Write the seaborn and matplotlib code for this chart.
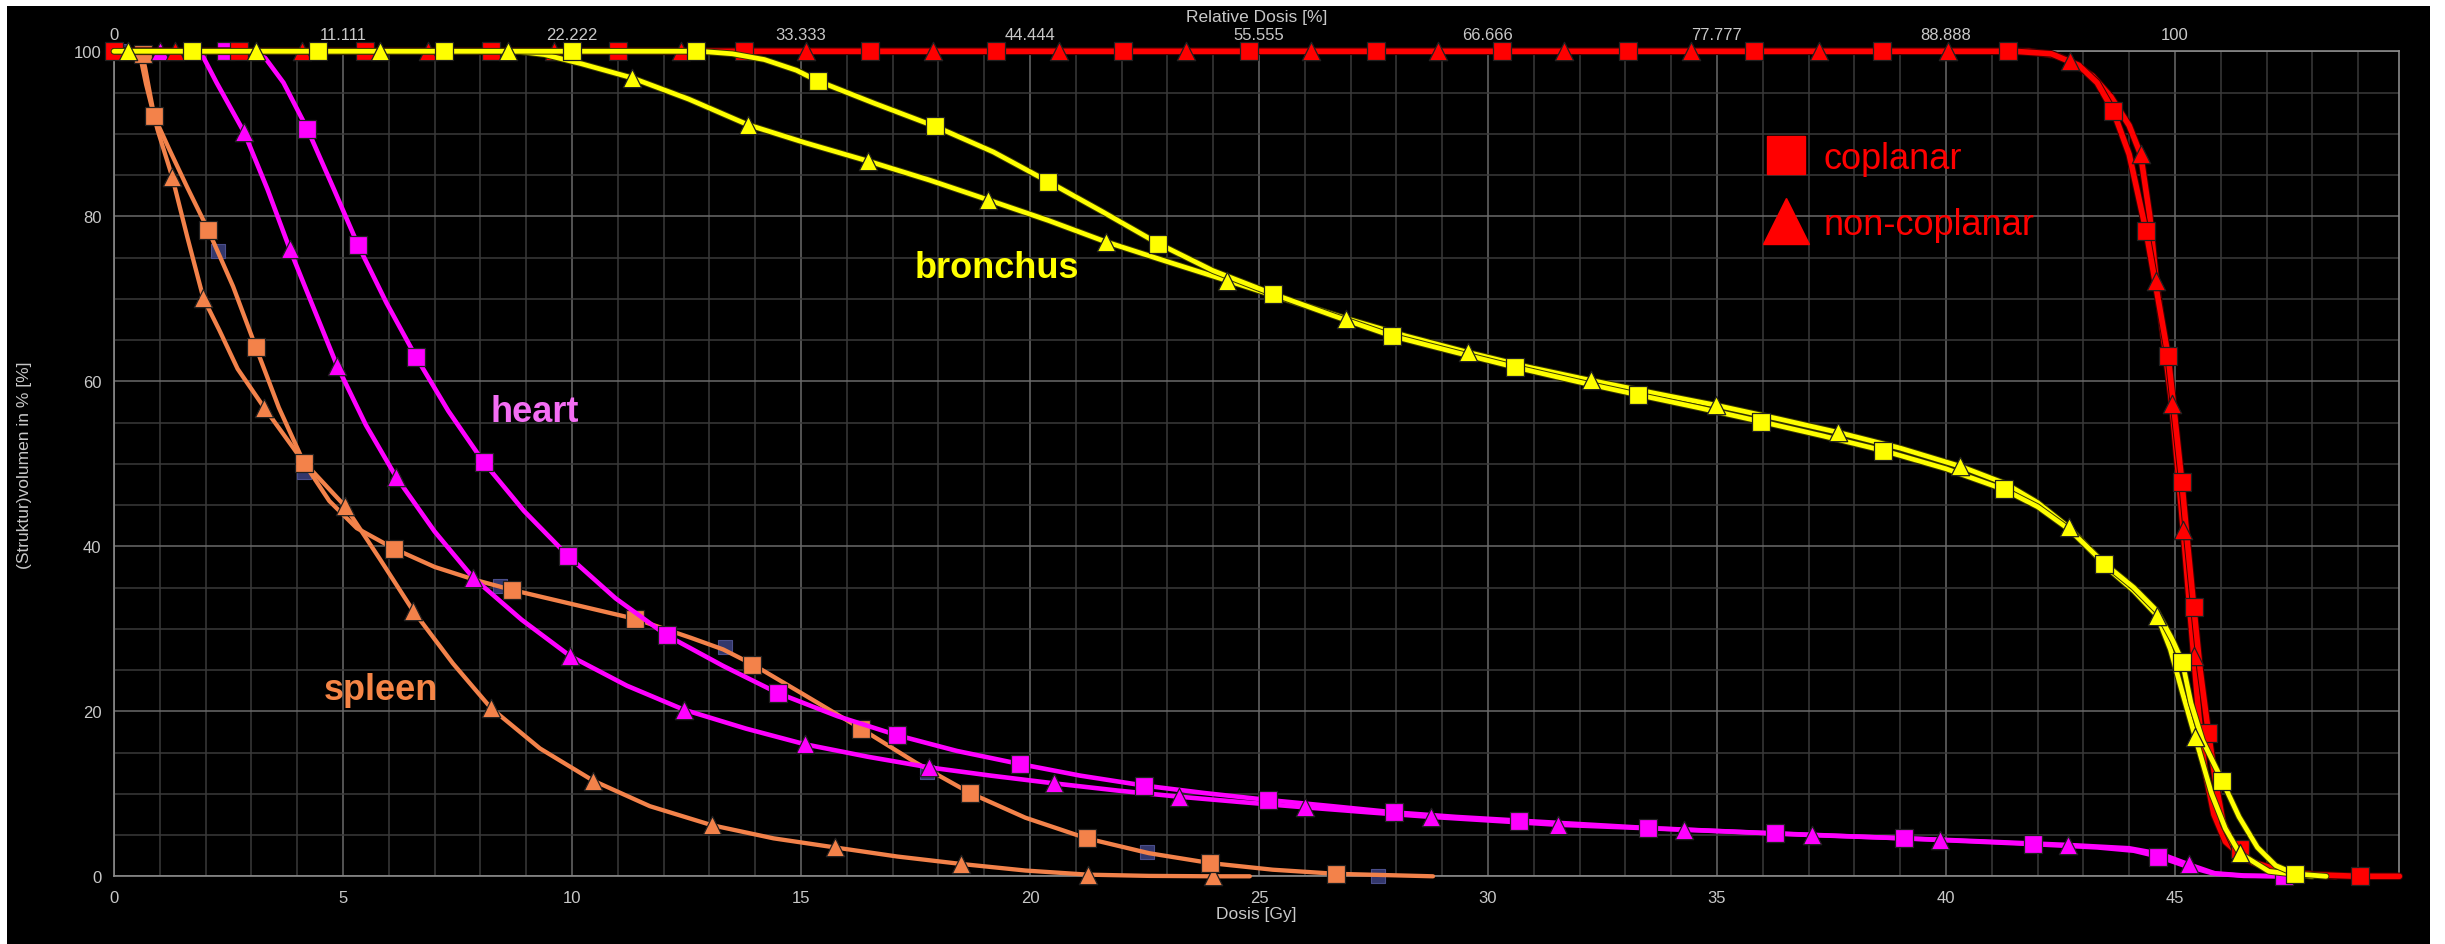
import matplotlib
matplotlib.use("Agg")
import matplotlib.pyplot as plt
import matplotlib.patheffects as pe
from matplotlib.lines import Line2D
from matplotlib.patches import Rectangle
import seaborn as sns

# ---------------- data (dose [Gy], volume [%]) ----------------
spleen_cop_curve = [(0, 100), (0.6, 100), (0.68, 98), (0.78, 95), (0.88, 92.1), (1.2, 88.2), (1.6, 83.5),
                    (2.06, 78.3), (2.6, 71.5), (3.1, 64.1), (3.6, 56.8), (4.15, 50.1), (4.7, 45.5), (5.3, 42.2),
                    (6.12, 39.7), (7.0, 37.5), (7.9, 35.9), (8.7, 34.7), (10.0, 33.0), (11.38, 31.2), (12.6, 28.9),
                    (13.3, 27.5), (13.94, 25.7), (15.1, 21.9), (16.31, 17.9), (17.5, 13.8), (18.69, 10.1),
                    (19.9, 7.1), (21.24, 4.6), (22.6, 2.8), (23.94, 1.6), (25.3, 0.8), (26.69, 0.3), (28.8, 0)]
spleen_cop_marks = [(0.64, 99.7), (0.88, 92.1), (2.06, 78.3), (3.1, 64.1), (4.15, 50.1), (6.12, 39.7),
                    (8.7, 34.7), (11.38, 31.2), (13.94, 25.65), (16.31, 17.85), (18.69, 10.1), (21.24, 4.64),
                    (23.94, 1.6), (26.69, 0.3)]

spleen_non_curve = [(0, 100), (0.55, 100), (0.7, 96), (0.95, 90.5), (1.27, 84.8), (1.6, 77.5), (1.95, 70.1),
                    (2.3, 66.2), (2.7, 61.5), (3.28, 56.8), (4.1, 50.5), (5.04, 44.9), (5.8, 38.5), (6.53, 32.2),
                    (7.4, 25.8), (8.23, 20.4), (9.3, 15.5), (10.46, 11.6), (11.7, 8.5), (13.05, 6.2),
                    (14.4, 4.6), (15.74, 3.5), (17.1, 2.4), (18.49, 1.5), (19.9, 0.7), (21.26, 0.2),
                    (22.6, 0.05), (24.0, 0), (24.8, 0)]
spleen_non_marks = [(1.27, 84.8), (1.95, 70.1), (3.28, 56.8), (5.04, 44.9), (6.53, 32.2), (8.23, 20.4),
                    (10.46, 11.6), (13.05, 6.2), (15.74, 3.5), (18.49, 1.5), (21.26, 0.2), (24.0, 0)]

hidden_marks = [(0.1, 100), (2.28, 75.8), (4.15, 49.0), (8.42, 35.2), (13.35, 27.8), (17.76, 12.6),
                (22.56, 2.95), (27.6, 0)]

heart_cop_curve = [(0, 100), (3.0, 100), (3.3, 99.2), (3.7, 96.2), (4.22, 90.6), (4.8, 83.3), (5.33, 76.5),
                   (5.95, 69.5), (6.6, 62.9), (7.3, 56.4), (8.07, 50.2), (8.95, 44.3), (9.92, 38.8),
                   (10.95, 33.7), (12.07, 29.2), (13.3, 25.5), (14.5, 22.2), (15.8, 19.4), (17.1, 17.1),
                   (18.4, 15.2), (19.79, 13.6), (21.1, 12.2), (22.49, 11.0), (23.8, 10.1), (25.2, 9.25),
                   (26.6, 8.5), (27.95, 7.75), (29.3, 7.2), (30.68, 6.75), (32.1, 6.3), (33.5, 5.85),
                   (36.27, 5.2), (39.08, 4.6), (41.9, 3.9), (43.3, 3.5), (44.1, 3.1), (44.63, 2.4),
                   (45.2, 1.3), (45.8, 0.4), (46.5, 0.1), (47.38, 0)]
heart_cop_marks = [(2.44, 100), (4.22, 90.6), (5.33, 76.5), (6.6, 62.9), (8.07, 50.2), (9.92, 38.8),
                   (12.07, 29.2), (14.5, 22.2), (17.1, 17.1), (19.79, 13.6), (22.49, 11.0), (25.2, 9.25),
                   (27.95, 7.75), (30.68, 6.75), (33.5, 5.85), (36.27, 5.2), (39.08, 4.6), (41.9, 3.9),
                   (44.63, 2.4), (47.38, 0)]

heart_non_curve = [(0, 100), (1.7, 100), (1.95, 99.3), (2.24, 96.2), (2.84, 90.2), (3.35, 83.3), (3.84, 76.0),
                   (4.35, 69.0), (4.87, 61.9), (5.5, 54.7), (6.16, 48.4), (7.0, 41.8), (7.84, 36.2),
                   (8.9, 31.1), (9.96, 26.7), (11.2, 23.1), (12.44, 20.2), (13.8, 17.9), (15.09, 16.0),
                   (16.45, 14.5), (17.8, 13.2), (19.15, 12.2), (20.52, 11.27), (21.9, 10.4), (23.25, 9.65),
                   (24.6, 9.0), (26.0, 8.36), (27.4, 7.75), (28.76, 7.2), (31.52, 6.25), (34.27, 5.65),
                   (37.07, 5.0), (39.88, 4.44), (42.67, 3.8), (44.0, 3.4), (44.7, 2.7), (45.3, 1.45),
                   (45.9, 0.3), (46.5, 0.05), (47.3, 0)]
heart_non_marks = [(1.0, 100), (2.84, 90.2), (3.84, 76.0), (4.87, 61.9), (6.16, 48.4), (7.84, 36.2),
                   (9.96, 26.7), (12.44, 20.2), (15.09, 16.0), (17.8, 13.2), (20.52, 11.27), (23.25, 9.65),
                   (26.0, 8.36), (28.76, 7.2), (31.52, 6.25), (34.27, 5.65), (37.07, 5.0), (39.88, 4.44),
                   (42.67, 3.8), (45.3, 1.45)]

bronch_cop_curve = [(0, 100), (12.8, 100), (13.5, 99.7), (14.2, 99.0), (14.9, 97.7), (15.37, 96.4),
                    (16.6, 93.7), (17.93, 90.9), (19.2, 87.8), (20.4, 84.2), (21.6, 80.5), (22.8, 76.7),
                    (24.0, 73.4), (25.3, 70.6), (26.6, 68.0), (27.9, 65.5), (29.3, 63.5), (30.6, 61.7),
                    (32.0, 59.9), (33.28, 58.35), (34.6, 56.8), (35.97, 55.1), (37.3, 53.4), (38.63, 51.6),
                    (40.0, 49.4), (41.26, 46.9), (42.0, 44.8), (42.7, 42.0), (43.46, 37.9), (44.1, 35.0),
                    (44.6, 32.2), (44.95, 28.6), (45.16, 26.0), (45.35, 21.0), (45.6, 16.5), (46.03, 11.6),
                    (46.4, 7.2), (46.8, 3.5), (47.2, 1.3), (47.62, 0.3), (48.3, 0)]
bronch_cop_marks = [(1.7, 100), (4.45, 100), (7.2, 100), (10.0, 100), (12.7, 100), (15.37, 96.4),
                    (17.93, 90.9), (20.4, 84.2), (22.8, 76.7), (25.3, 70.6), (27.9, 65.5), (30.6, 61.7),
                    (33.28, 58.35), (35.97, 55.1), (38.63, 51.6), (41.26, 46.9), (43.46, 37.9),
                    (45.16, 26.0), (46.03, 11.6), (47.62, 0.3)]

bronch_non_curve = [(0, 100), (8.8, 100), (9.4, 99.6), (10.2, 98.5), (11.3, 96.8), (12.55, 94.2),
                    (13.84, 91.1), (15.1, 88.9), (16.46, 86.7), (17.8, 84.4), (19.08, 82.0), (20.4, 79.5),
                    (21.66, 76.9), (23.0, 74.5), (24.31, 72.2), (25.6, 69.9), (26.91, 67.6), (28.2, 65.5),
                    (29.57, 63.5), (30.9, 61.7), (32.26, 60.1), (33.6, 58.6), (34.98, 57.1), (36.3, 55.5),
                    (37.65, 53.8), (39.0, 51.9), (40.31, 49.7), (41.3, 47.6), (42.0, 45.3), (42.68, 42.3),
                    (43.6, 37.0), (44.1, 34.6), (44.61, 31.6), (44.9, 27.5), (45.15, 22.5), (45.44, 16.9),
                    (45.8, 10.0), (46.1, 5.8), (46.41, 2.8), (47.05, 0.6), (48.0, 0)]
bronch_non_marks = [(0.3, 100), (3.1, 100), (5.8, 100), (8.6, 100), (11.3, 96.8), (13.84, 91.1),
                    (16.46, 86.7), (19.08, 82.0), (21.66, 76.9), (24.31, 72.2), (26.91, 67.6), (29.57, 63.5),
                    (32.26, 60.1), (34.98, 57.1), (37.65, 53.8), (40.31, 49.7), (42.68, 42.3), (44.61, 31.6),
                    (45.44, 16.9), (46.41, 2.8)]

ptv_cop_curve = [(0, 100), (41.5, 100), (42.3, 99.7), (42.9, 98.3), (43.3, 96.2), (43.65, 92.8), (44.0, 87.5),
                 (44.37, 78.2), (44.6, 71.0), (44.85, 63.1), (45.0, 55.5), (45.15, 47.8), (45.28, 40.0),
                 (45.41, 32.7), (45.55, 25.0), (45.73, 17.4), (45.9, 11.0), (46.05, 6.5), (46.3, 3.5),
                 (46.7, 1.7), (47.3, 0.7), (48.0, 0.2), (49.0, 0), (49.9, 0)]
ptv_cop_marks = [(0, 100), (2.72, 100), (5.47, 100), (8.23, 100), (11.0, 100), (13.75, 100), (16.5, 100),
                 (19.26, 100), (22.02, 100), (24.78, 100), (27.55, 100), (30.3, 100), (33.06, 100),
                 (35.8, 100), (38.6, 100), (41.36, 100), (43.65, 92.8), (44.37, 78.2), (44.85, 63.1),
                 (45.15, 47.8), (45.41, 32.7), (45.73, 17.4), (46.43, 3.3), (49.05, 0)]

ptv_non_curve = [(0, 100), (41.8, 100), (42.4, 99.5), (42.71, 98.8), (43.2, 97.0), (43.6, 94.5), (44.0, 91.0),
                 (44.25, 87.5), (44.45, 80.0), (44.59, 72.2), (44.78, 64.0), (44.93, 57.3), (45.06, 49.5),
                 (45.18, 42.0), (45.3, 34.0), (45.41, 26.7), (45.52, 19.5), (45.65, 13.0), (45.85, 7.5),
                 (46.1, 4.2), (46.5, 2.2), (47.0, 1.0), (47.8, 0.3), (48.5, 0)]
ptv_non_marks = [(1.34, 100), (4.1, 100), (6.85, 100), (9.61, 100), (12.37, 100), (15.12, 100), (17.88, 100),
                 (20.64, 100), (23.4, 100), (26.14, 100), (28.9, 100), (31.67, 100), (34.44, 100),
                 (37.23, 100), (40.04, 100), (42.71, 98.8), (44.25, 87.5), (44.59, 72.2), (44.93, 57.3),
                 (45.18, 42.0), (45.41, 26.7)]

gy_ticks = [0, 5, 10, 15, 20, 25, 30, 35, 40, 45]
rel_labels = ["0", "11.111", "22.222", "33.333", "44.444", "55.555", "66.666", "77.777", "88.888", "100"]
vol_ticks = [0, 20, 40, 60, 80, 100]

# ---------------- style ----------------
sns.set_style("dark")
plt.rcParams['font.family'] = ['Liberation Sans', 'DejaVu Sans']
TICKC = '#c8c8c8'

fig = plt.figure(figsize=(24.45, 9.45), dpi=100, facecolor='white')
fig.patches.append(Rectangle((7 / 2445, 0), (2430 - 7) / 2445, 1 - 7 / 945, transform=fig.transFigure,
                             facecolor='black', edgecolor='none', zorder=-10))
ax = fig.add_axes([114 / 2445, 1 - 877.3 / 945, (2399.4 - 114) / 2445, 825 / 945])
ax.set_facecolor('black')


def unz(pts):
    return [p[0] for p in pts], [p[1] for p in pts]


SQ = 150
TR = 175


def draw(curve, marks, color, marker, msize, lw, z, outline=None):
    cx, cy = unz(curve)
    kw = {}
    if outline:
        kw['path_effects'] = [pe.Stroke(linewidth=lw + 1.4, foreground=outline), pe.Normal()]
    sns.lineplot(x=cx, y=cy, color=color, linewidth=lw, sort=False, estimator=None, ax=ax,
                 zorder=z, clip_on=False, solid_joinstyle='round', **kw)
    mx, my = unz(marks)
    sns.scatterplot(x=mx, y=my, color=color, marker=marker, s=msize, edgecolor='#202020',
                    linewidth=0.9, ax=ax, zorder=z + 0.5, clip_on=False)


ORANGE = '#f3824a'
MAG = '#ff00ff'
YEL = '#ffff00'
RED = '#ff0000'

hx, hy = unz(hidden_marks)
sns.scatterplot(x=hx, y=hy, color='#33376c', marker='s', s=110, edgecolor='#4a4e8a', linewidth=0.8,
                ax=ax, zorder=2, clip_on=False)
draw(spleen_non_curve, spleen_non_marks, ORANGE, '^', TR, 3.1, 3)
draw(spleen_cop_curve, spleen_cop_marks, ORANGE, 's', SQ, 3.1, 3.2)
draw(heart_non_curve, heart_non_marks, MAG, '^', TR, 3.3, 4)
draw(heart_cop_curve, heart_cop_marks, MAG, 's', SQ, 3.3, 4.2)
draw(ptv_non_curve, ptv_non_marks, RED, '^', TR, 4.0, 5, outline='#400000')
draw(ptv_cop_curve, ptv_cop_marks, RED, 's', SQ, 4.0, 5.2, outline='#400000')
draw(bronch_non_curve, bronch_non_marks, YEL, '^', TR, 3.4, 6, outline='#3a3a00')
draw(bronch_cop_curve, bronch_cop_marks, YEL, 's', SQ, 3.4, 6.2, outline='#3a3a00')

# ---------------- axes ----------------
ax.set_xlim(0, 49.9)
ax.set_ylim(0, 100)
ax.set_xticks(gy_ticks)
ax.set_xticklabels([str(t) for t in gy_ticks])
ax.set_xticks(range(0, 50), minor=True)
ax.set_yticks(vol_ticks)
ax.set_yticklabels([str(t) for t in vol_ticks])
ax.set_yticks(range(0, 101, 5), minor=True)
ax.set_axisbelow(True)
ax.grid(which='major', color='#6a6a6a', linewidth=1.1)
ax.grid(which='minor', color='#3a3a3a', linewidth=1.1)
ax.tick_params(axis='both', which='minor', length=0)
ax.tick_params(axis='x', which='major', length=4, width=1, color='#a0a0a0', colors=TICKC, labelsize=12, pad=6)
ax.tick_params(axis='y', which='major', length=6, width=1, color='#a0a0a0', colors=TICKC, labelsize=12, pad=3)
for s in ax.spines.values():
    s.set_visible(True)
    s.set_color('#8a8a8a')
    s.set_linewidth(1.2)

ax.set_xlabel('Dosis [Gy]', color=TICKC, fontsize=12.5)
ax.xaxis.set_label_coords(0.5, -0.036)
ax.set_ylabel('(Struktur)volumen in % [%]', color=TICKC, fontsize=12.5)
ax.yaxis.set_label_coords(-0.0359, 0.5)

sec = ax.secondary_xaxis('top')
sec.set_xticks(gy_ticks)
sec.set_xticklabels(rel_labels)
sec.tick_params(length=0, colors=TICKC, labelsize=12, pad=6.5)
sec.spines['top'].set_visible(False)
fig.text(1256.7 / 2445, 1 - 17.5 / 945, 'Relative Dosis [%]', color=TICKC, fontsize=12.5,
         ha='center', va='center')

# ---------------- annotations ----------------
ax.text(19.28, 72.6, 'bronchus', color=YEL, fontsize=26, fontweight='bold', ha='center', va='baseline', zorder=8)
ax.text(9.19, 55.2, 'heart', color='#f46ef4', fontsize=26, fontweight='bold', ha='center', va='baseline', zorder=8)
ax.text(5.83, 21.5, 'spleen', color='#f58546', fontsize=26, fontweight='bold', ha='center', va='baseline', zorder=8)

handles = [Line2D([], [], ls='none', marker='s', markersize=28, color=RED),
           Line2D([], [], ls='none', marker='^', markersize=33, color=RED)]
leg = ax.legend(handles, ['coplanar', 'non-coplanar'], loc='upper left',
                bbox_to_anchor=(1764 / 2445, 1 - 142 / 945), bbox_transform=fig.transFigure,
                frameon=False, fontsize=26, labelcolor=RED, handletextpad=0.45, labelspacing=0.85,
                borderpad=0, borderaxespad=0, handlelength=1.2)
leg.set_zorder(9)

fig.savefig('out.png', dpi=100, facecolor=fig.get_facecolor())
